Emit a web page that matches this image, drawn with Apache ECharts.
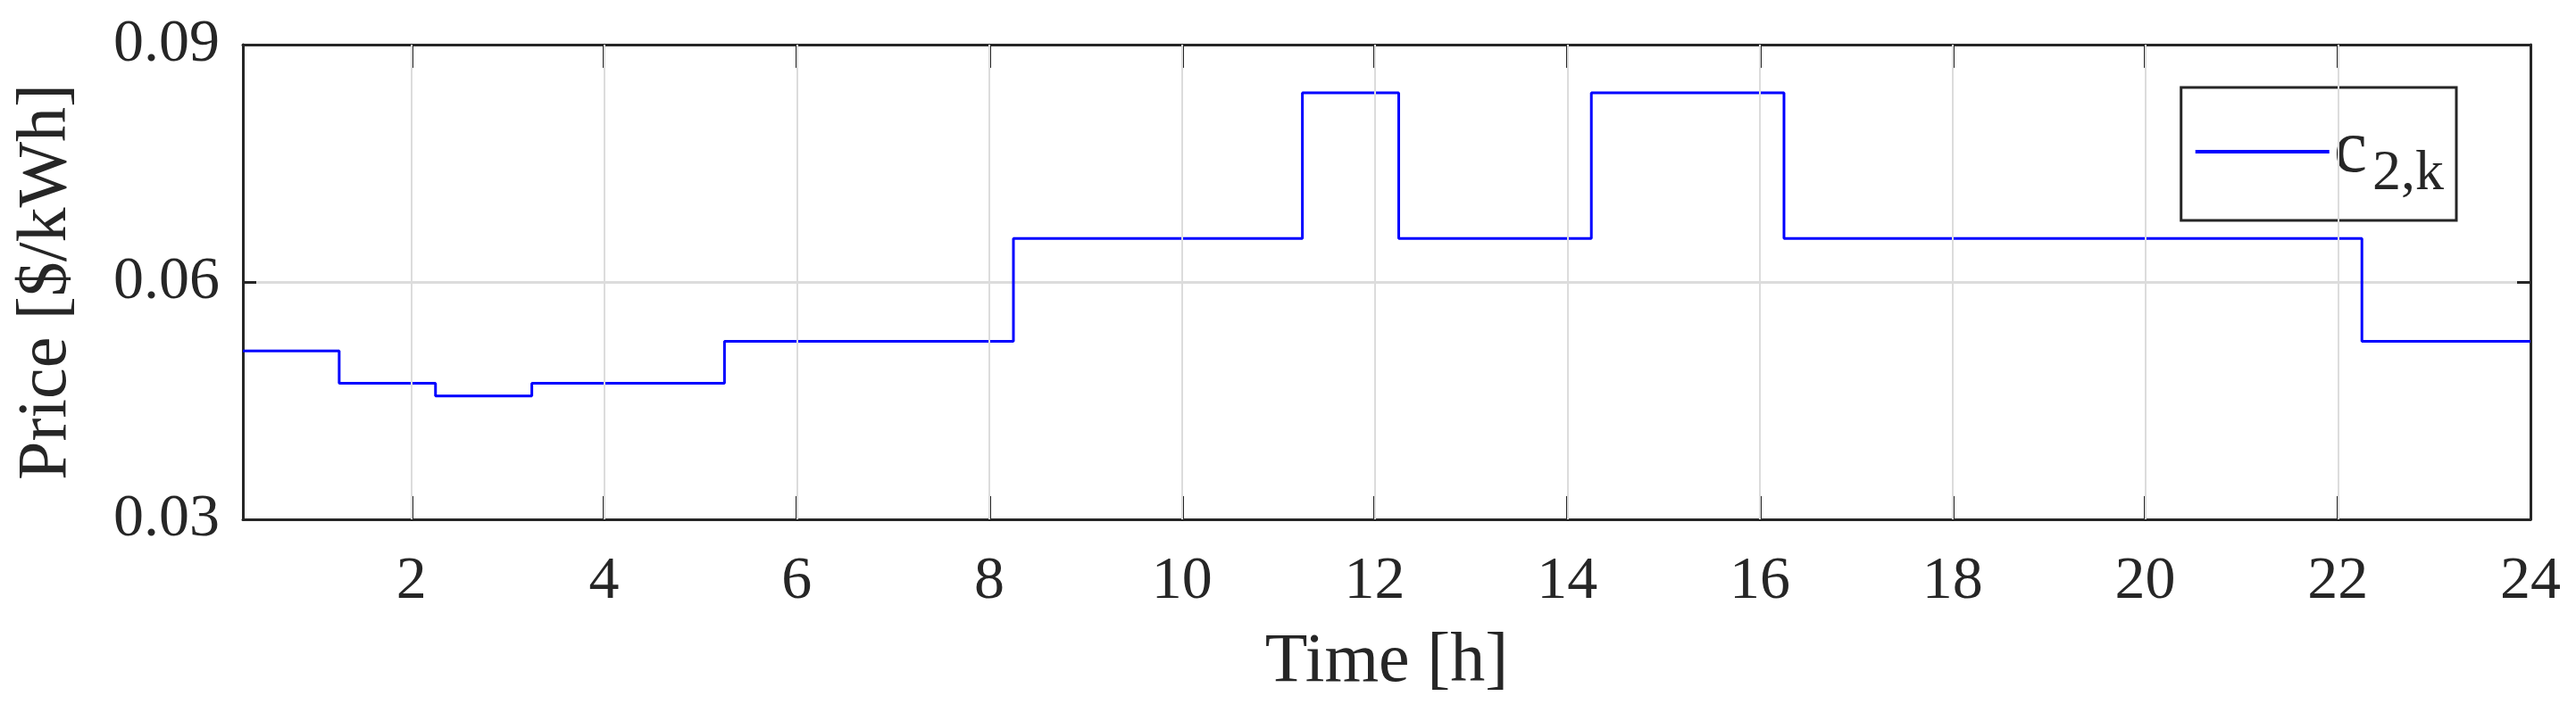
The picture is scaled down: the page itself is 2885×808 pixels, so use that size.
<!DOCTYPE html>
<html>
<head>
<meta charset="utf-8">
<script src="https://cdn.jsdelivr.net/npm/echarts@6/dist/echarts.min.js"></script>
<style>html,body{margin:0;padding:0;background:#fff}#chart{width:2885px;height:808px}</style>
</head>
<body>
<div id="chart"></div>
<script>
// step points: price holds from each time until the next one
var times  = [0.25, 1.25, 2.25, 3.25, 5.25, 8.25, 11.25, 12.25, 14.25, 16.25, 22.25, 24];
var prices = [0.0513, 0.0472, 0.0456, 0.0472, 0.0525, 0.0655, 0.0839, 0.0655, 0.0839, 0.0655, 0.0525, 0.0525];
var xTicks = [2, 4, 6, 8, 10, 12, 14, 16, 18, 20, 22, 24];
var yTicks = [0.03, 0.06, 0.09];

var chart = echarts.init(document.getElementById('chart'));
var font = 'Liberation Serif';
var axisCol = '#262626';

var pts = times.map(function (t, i) { return [t, prices[i]]; });

var xBase = {
  type: 'value', min: 0.25, max: 24,
  axisLine: { show: true, lineStyle: { color: axisCol, width: 3 } },
  axisTick: { show: true, inside: true, length: 26, customValues: xTicks, lineStyle: { color: axisCol, width: 3 } },
  splitLine: { show: false }
};
var yBase = {
  type: 'value', min: 0.03, max: 0.09, interval: 0.03,
  axisLine: { show: true, lineStyle: { color: axisCol, width: 3 } },
  axisTick: { show: true, inside: true, length: 15, lineStyle: { color: axisCol, width: 3 } }
};

chart.setOption({
  animation: false,
  grid: { left: 272, right: 51, top: 50, bottom: 226 },
  xAxis: [
    Object.assign({}, xBase, {
      position: 'bottom',
      name: 'Time [h]', nameLocation: 'middle', nameGap: 122,
      nameTextStyle: { fontFamily: font, fontSize: 78, color: axisCol },
      axisLabel: { customValues: xTicks, margin: 36, fontFamily: font, fontSize: 68, color: axisCol }
    }),
    Object.assign({}, xBase, { position: 'top', axisLabel: { show: false } })
  ],
  yAxis: [
    Object.assign({}, yBase, {
      position: 'left',
      name: 'Price [$/kWh]', nameLocation: 'middle', nameGap: 180,
      nameTextStyle: { fontFamily: font, fontSize: 78, color: axisCol },
      axisLabel: { margin: 26, fontFamily: font, fontSize: 68, color: axisCol,
        formatter: function (v) { return v.toFixed(2); } },
      splitLine: { show: true, lineStyle: { color: '#dcdcdc', width: 3 } }
    }),
    Object.assign({}, yBase, { position: 'right', axisLabel: { show: false }, splitLine: { show: false } })
  ],
  legend: {
    right: 2885 - 2751, top: 98, width: 303, height: 130,
    orient: 'vertical',
    padding: [30, 14, 20, 16],
    borderColor: axisCol, borderWidth: 3,
    itemWidth: 150, itemHeight: 4, itemGap: 0,
    icon: 'rect',
    formatter: function () { return '{c|c}{s|2,k}'; },
    textStyle: {
      rich: {
        c: { fontFamily: font, fontSize: 84, color: axisCol },
        s: { fontFamily: font, fontSize: 64, color: axisCol, padding: [50, 0, 0, 6] }
      }
    },
    data: ['c2k']
  },
  series: [
    {
      type: 'line', name: 'grid', data: [], z: 1, silent: true,
      markLine: {
        symbol: 'none', silent: true, label: { show: false },
        lineStyle: { color: '#dcdcdc', width: 2, type: 'solid' },
        data: xTicks.slice(0, -1).map(function (t) { return { xAxis: t }; })
      }
    },
    {
      type: 'line', name: 'c2k', step: 'end', data: pts, showSymbol: false, z: 3,
      lineStyle: { color: '#0000ff', width: 3 }, itemStyle: { color: '#0000ff' }
    }
  ]
});
</script>
</body>
</html>
